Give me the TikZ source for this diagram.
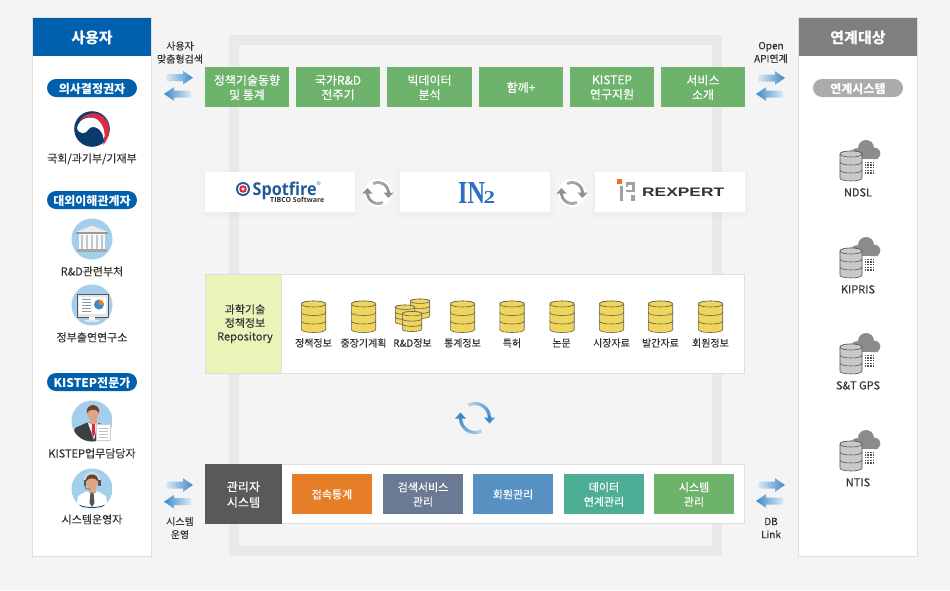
\documentclass[tikz,border=0pt]{standalone}
\usepackage{fontspec}
\usepackage{graphicx}
\setmainfont{Noto Sans CJK KR}
\newfontfamily\medf[FakeBold=0.3]{Noto Sans CJK KR}
\newfontfamily\lightf[FakeBold=0.1]{Noto Sans CJK KR}
\newfontfamily\logosans{Open Sans}
\newfontfamily\logoarial{Liberation Sans}
\newfontfamily\logoserif{Liberation Serif}
\usetikzlibrary{calc}
\definecolor{pagebg}{HTML}{F4F4F4}
\definecolor{framec}{HTML}{E9E9E9}
\definecolor{edgec}{HTML}{DFDFDF}
\definecolor{userblue}{HTML}{0060AE}
\definecolor{linkgray}{HTML}{7F7F7F}
\definecolor{pillgray}{HTML}{ABABAB}
\definecolor{mygreen}{HTML}{6DB36C}
\definecolor{repog}{HTML}{E8F4B8}
\definecolor{admind}{HTML}{595959}
\definecolor{morange}{HTML}{E67E27}
\definecolor{mslate}{HTML}{6A7A94}
\definecolor{mblue}{HTML}{5791C1}
\definecolor{mteal}{HTML}{4BAE95}
\definecolor{txt}{HTML}{333333}
\definecolor{arrdark}{HTML}{3D8AC8}
\definecolor{arrlight}{HTML}{DCEAF5}
\definecolor{cycbl}{HTML}{B5D5EC}
\definecolor{cycgd}{HTML}{8F8F8F}
\definecolor{cycgl}{HTML}{ABABAB}
\definecolor{dby}{HTML}{EFD55C}
\definecolor{dbs}{HTML}{5F5F55}
\definecolor{skyc}{HTML}{A3CEEC}
\definecolor{skin}{HTML}{DDA583}
\definecolor{hairc}{HTML}{6E4229}
\definecolor{navy}{HTML}{0B3A6C}
\definecolor{redc}{HTML}{DE2B45}
\definecolor{suitc}{HTML}{3F3F3F}
\definecolor{cloudc}{HTML}{8C8C8C}
\definecolor{darkg}{HTML}{555555}
\definecolor{drumg}{HTML}{C9C9C9}
\definecolor{rexg}{HTML}{A0A0A0}
\definecolor{rexo}{HTML}{F0701E}
\definecolor{spotb}{HTML}{1D5A9A}
\definecolor{inblue}{HTML}{2A6FC4}
\tikzset{
 x=1pt,y=-1pt,
 lab/.style={font=\lightf\fontsize{10}{13}\selectfont,text=txt,inner sep=0pt,align=center,yshift=-.5pt},
 labm/.style={font=\lightf\fontsize{11}{13}\selectfont,text=txt,inner sep=0pt,align=center,yshift=-.4pt},
 sidehead/.style={font=\fontsize{15}{18}\selectfont\bfseries,text=white,inner sep=0pt,minimum width=118pt,minimum height=38pt,text depth=0pt},
 pill/.style={font=\fontsize{12}{14}\selectfont\bfseries,text=white,inner sep=0pt,minimum width=90pt,minimum height=18pt,rounded corners=9pt,text depth=0pt},
 gbox/.style={fill=mygreen,font=\medf\fontsize{12}{14.5}\selectfont,text=white,inner sep=0pt,minimum height=40pt,align=center,text depth=0pt},
 mbox/.style={font=\medf\fontsize{11}{14.5}\selectfont,text=white,inner sep=0pt,minimum width=80pt,minimum height=40pt,align=center,text depth=0pt},
 logobox/.style={fill=white,inner sep=0pt,minimum width=150pt,minimum height=40pt},
}
% gradient block arrows
\newcommand\arrowR[2]{\shade[left color=arrlight,right color=arrdark] (#1,#2-3.5) -- (#1+17,#2-3.5) -- (#1+17,#2-6.8) -- (#1+27,#2) -- (#1+17,#2+6.8) -- (#1+17,#2+3.5) -- (#1,#2+3.5) -- cycle;}
\newcommand\arrowL[2]{\shade[left color=arrdark,right color=arrlight] (#1,#2) -- (#1+10,#2-6.8) -- (#1+10,#2-3.5) -- (#1+27,#2-3.5) -- (#1+27,#2+3.5) -- (#1+10,#2+3.5) -- (#1+10,#2+6.8) -- cycle;}
% disc stack: cx, top, half width, ry, layer height, fill, stroke
\newcommand\dbstack[7]{%
 \begin{scope}[shift={(#1,#2)},line width=.6pt,draw=#7,fill=#6]
 \foreach \k in {2,1,0}{
  \filldraw (-#3,{#4+\k*#5}) -- (-#3,{#4+(\k+1)*#5}) .. controls (-#3,{#4+(\k+1)*#5+1.33*#4}) and (#3,{#4+(\k+1)*#5+1.33*#4}) .. (#3,{#4+(\k+1)*#5}) -- (#3,{#4+\k*#5}) .. controls (#3,{#4+\k*#5-1.33*#4}) and (-#3,{#4+\k*#5-1.33*#4}) .. cycle;
 }
 \filldraw (-#3,#4) .. controls (-#3,{#4-1.33*#4}) and (#3,{#4-1.33*#4}) .. (#3,#4) .. controls (#3,{#4+1.33*#4}) and (-#3,{#4+1.33*#4}) .. cycle;
 \end{scope}}
% linked system icon: cx of drum, top of drum
\newcommand\linkicon[2]{%
 \begin{scope}[shift={(#1,#2)}]
 \fill[cloudc] (15,-3) circle[radius=8pt];
 \fill[cloudc] (5.5,2) circle[radius=5pt];
 \fill[cloudc] (23.5,2.5) circle[radius=5.8pt];
 \fill[cloudc] (3,2) rectangle (27,8.2);
 \foreach \a in {0,1,2,3}{\foreach \b in {0,1,2,3,4}{
  \fill[darkg] ({13.5+\a*2.8},{10.5+\b*2.7}) rectangle ++(1.5pt,-1.5pt);}}
 \end{scope}
 \dbstack{#1}{#2}{11}{3}{8}{drumg}{darkg}}
% circular arrows: cx, cy, radius, width, head half, dark, light
\newcommand\cyc[7]{%
 \foreach \t in {0,1,...,12}{
  \pgfmathsetmacro\mixv{100-\t*8}
  \draw[line width=#4,#6!\mixv!#7] (#1,#2) ++({\t*9}:#3) arc[start angle={\t*9},end angle={\t*9+9.5},radius=#3];
  \draw[line width=#4,#6!\mixv!#7] (#1,#2) ++({180+\t*9}:#3) arc[start angle={180+\t*9},end angle={180+\t*9+9.5},radius=#3];
 }
 \path (#1,#2) ++(#3,0pt) coordinate (cA);
 \path (#1,#2) ++(-#3,0pt) coordinate (cB);
 \fill[#6] ($(cA)+(-#5,.5pt)$) -- ($(cA)+(#5,.5pt)$) -- ($(cA)+(0pt,-#5)$) -- cycle;
 \fill[#6] ($(cB)+(-#5,-.5pt)$) -- ($(cB)+(#5,-.5pt)$) -- ($(cB)+(0pt,#5)$) -- cycle;}
\begin{document}
\begin{tikzpicture}
\useasboundingbox (0,0) rectangle (950,590);
\fill[pagebg] (0,0) rectangle (950,590);
% frame
\fill[framec] (229,35) rectangle (722,556);
\fill[pagebg] (239,45) rectangle (712,546);
% side panels
\filldraw[fill=white,draw=edgec,line width=1pt] (32.5,17.5) rectangle (151.5,556);
\filldraw[fill=white,draw=edgec,line width=1pt] (798.5,17.5) rectangle (917.5,556);
\node[sidehead,fill=userblue] (userhead) at (92,37) {사용자};
\node[sidehead,fill=linkgray] (linkhead) at (858,37) {연계대상};
% user side
\node[pill,fill=userblue] (p1) at (92,88) {의사결정권자};
\node[pill,fill=userblue] (p2) at (92,200) {대외이해관계자};
\node[pill,fill=userblue] (p3) at (92,382) {KISTEP전문가};
\node[pill,fill=pillgray] (p4) at (858,88) {연계시스템};
% taegeuk
\fill[navy] (92,129) circle[radius=17.8pt];
\fill[white] (77,128) .. controls (79,118) and (91,114) .. (100,121) .. controls (105,126) and (106,134) .. (104,140) .. controls (103,134) and (101,130) .. (97,128) .. controls (93,126) and (90,127) .. (88,130) .. controls (86,134) and (79,135) .. (77,128) -- cycle;
\fill[redc] (79,122) .. controls (84,112) and (98,110) .. (105.5,119) .. controls (111.5,126) and (110,138) .. (103,145) .. controls (106,136) and (105,126) .. (98,120) .. controls (92,115) and (84,116) .. (79,122) -- cycle;
\node[labm] (u1) at (92,158.5) {국회/과기부/기재부};
% building
\fill[skyc] (92,239) circle[radius=20.5pt];
\fill[white!92!black] (92,225.5) -- (108,232) -- (76,232) -- cycle;
\fill[gray!80] (76,232) rectangle (108,233.5);
\fill[white!90!skyc] (79,234) rectangle (105,249);
\foreach \c in {82,87,92,97,102}{\fill[gray!45] (\c-.7,234.5) rectangle (\c+.7,249);}
\fill[gray!70] (77,248.5) rectangle (107,251.5);
\node[labm] (u2) at (92,271) {R\&D관련부처};
% monitor
\fill[skyc] (92,305) circle[radius=20.5pt];
\fill[gray!20] (77,294.5) rectangle (108,317);
\draw[darkg,line width=.8pt] (77,294.5) rectangle (108,317);
\fill[white] (79,296.5) rectangle (106,314);
\foreach \c in {299,302,305,308,311}{\draw[gray!80,line width=.7pt] (82,\c) -- (91,\c);}
\fill[arrdark] (99,304.5) circle[radius=5pt];
\fill[orange] (99,304.5) -- ++(0pt,5pt) arc[start angle=90,end angle=0,radius=5pt] -- cycle;
\fill[white] (89,317) rectangle (95,320);
\fill[white!90!black] (85,320) rectangle (99,321.5);
\node[labm] (u3) at (92,337) {정부출연연구소};
% man
\begin{scope}
\clip (92,421) circle[radius=20.5pt];
\fill[skyc] (71,400) rectangle (113,442);
\fill[suitc] (72,442) -- (75,428) -- (86,423) -- (93,422) -- (102,424) -- (110,430) -- (112,442) -- cycle;
\fill[white] (88,423) -- (98,423) -- (94,440) -- cycle;
\fill[redc] (92,423) -- (95,423) -- (95.3,433) -- (93.5,437) -- (91.7,433) -- cycle;
\fill[skin] (90,417) rectangle (96.5,424);
\fill[skin] (93,412.5) ellipse[x radius=6pt,y radius=7.5pt];
\fill[hairc] (86.8,413) .. controls (85.5,402.5) and (100.5,402.5) .. (99.2,413) .. controls (97,408.5) and (89,408.5) .. (86.8,413) -- cycle;
\end{scope}
\filldraw[fill=white,draw=gray!40,line width=.4pt] (96.5,424.5) rectangle (110,440);
\foreach \c in {428,431,434,437}{\draw[gray!50,line width=.5pt] (99,\c) -- (108,\c);}
\node[labm] (u4) at (92,453) {KISTEP업무담당자};
% operator
\begin{scope}
\clip (92,489) circle[radius=20.5pt];
\fill[skyc] (71,468) rectangle (113,510);
\fill[white] (76,510) -- (78,496) -- (86,491.5) -- (98,491.5) -- (106,496) -- (108,510) -- cycle;
\draw[navy,line width=.8pt] (72.5,500) .. controls (78,510) and (106,510) .. (111.5,500);
\fill[skin] (88.5,486) rectangle (95.5,493);
\fill[skin] (92,482) ellipse[x radius=6pt,y radius=7.2pt];
\fill[hairc] (85.5,482) .. controls (85,472) and (99,472) .. (98.5,482) .. controls (96,477) and (88,477) .. (85.5,482) -- cycle;
\draw[gray!20,line width=1pt] (84.5,482) .. controls (84,469.5) and (100,469.5) .. (99.5,482);
\fill[darkg] (83.5,480) rectangle (85.8,486);
\fill[darkg] (98.2,480) rectangle (100.5,486);
\draw[darkg,line width=.6pt] (85,486) .. controls (85,489) and (88,490) .. (90,489);
\fill[darkg] (90.5,492.5) -- (93.5,492.5) -- (94.5,503) -- (92,507) -- (89.5,503) -- cycle;
\end{scope}
\node[labm] (u5) at (92,519) {시스템운영자};
% linked systems
\linkicon{851}{151}
\node[labm] (l1) at (858,192) {NDSL};
\linkicon{851}{248}
\node[labm] (l2) at (858,289) {KIPRIS};
\linkicon{851}{344}
\node[labm] (l3) at (858,385) {S\&T GPS};
\linkicon{851}{441}
\node[labm] (l4) at (858,482) {NTIS};
% arrows
\arrowR{166}{77.7}\arrowL{164}{94}
\arrowR{758}{78}\arrowL{756}{94}
\arrowR{166}{485}\arrowL{164}{501.7}
\arrowR{758}{485}\arrowL{756}{501}
\node[lab] (a1) at (180,52) {사용자\\맞춤형검색};
\node[lab] (a2) at (771,52) {Open\\API연계};
\node[lab] (a3) at (180,527.5) {시스템\\운영};
\node[lab] (a4) at (771,527.5) {DB\\Link};
% top row
\node[gbox,minimum width=84pt] (g1) at (247,87) {정책기술동향\\및 통계};
\node[gbox,minimum width=84pt] (g2) at (338,87) {국가R\&D\\전주기};
\node[gbox,minimum width=85pt] (g3) at (429.5,87) {빅데이터\\분석};
\node[gbox,minimum width=84pt] (g4) at (521,87) {함께+};
\node[gbox,minimum width=84pt] (g5) at (612,87) {KISTEP\\연구지원};
\node[gbox,minimum width=84pt] (g6) at (703,87) {서비스\\소개};
% logos
\foreach \c in {205,400,595}{
 \foreach \d in {5,4,3,2,1}{\fill[black,opacity=.005] (\c-\d,172-\d+1.5) rectangle (\c+150+\d,212+\d+1.5);}
}
\node[logobox] (lg1) at (280,192) {};
\node[logobox] (lg2) at (475,192) {};
\node[logobox] (lg3) at (670,192) {};
\fill[white] (378,193) circle[radius=14pt];
\cyc{378}{193}{10.5pt}{2.8pt}{5pt}{cycgd}{cycgl}
\fill[white] (572,193) circle[radius=14pt];
\cyc{572}{193}{10.5pt}{2.8pt}{5pt}{cycgd}{cycgl}
% spotfire
\fill[spotb] (243,189) circle[radius=7pt];
\fill[white] (243,189) circle[radius=5.2pt];
\fill[redc] (243,189) circle[radius=3.8pt];
\fill[white] (243,189) circle[radius=1.6pt];
\node[inner sep=0pt,anchor=base west,text=spotb] (sp1) at (252.5,195) {\resizebox{64pt}{13.5pt}{\logosans\bfseries Spotfire}};
\node[inner sep=0pt,anchor=west,text=spotb] (sp3) at (316.5,184) {\logosans\fontsize{5}{6}\selectfont ®};
\node[inner sep=0pt,anchor=west,text=txt] (sp2) at (270,199.5) {\logosans\fontsize{7}{8}\selectfont\bfseries TIBCO Software};
% IN2
\node[inner sep=0pt,anchor=west,text=inblue] (in1) at (458,192.5) {\resizebox{27pt}{21pt}{\logoserif\bfseries IN}};
\node[inner sep=0pt,anchor=west,text=inblue] (in2) at (483.5,197.5) {\resizebox{11.5pt}{12pt}{\logoserif\bfseries 2}};
% rexpert
\fill[rexo] (616.5,179) rectangle (621.5,184);
\fill[rexg] (619.5,186) rectangle (623,201);
\fill[rexg] (625.5,182) rectangle (635,184.8);
\fill[rexg] (632,182) rectangle (635,192);
\fill[rexg] (625.5,189.5) rectangle (635,192.3);
\fill[rexg] (625.5,184) rectangle (628,186.5);
\fill[rexg] (631,194.5) rectangle (634.5,201);
\node[inner sep=0pt,anchor=west,text=txt] (rx) at (642,192) {\resizebox{82pt}{8.5pt}{\logoarial\bfseries REXPERT}};
% repository
\filldraw[fill=white,draw=edgec,line width=1pt] (205.5,274.5) rectangle (744.5,373.5);
\filldraw[fill=repog,draw=edgec,line width=1pt] (205.5,274.5) rectangle (281.5,373.5);
\node[font=\lightf\fontsize{11}{13.5}\selectfont,text=txt,inner sep=0pt,align=center,yshift=-.2pt] (rp) at (245,323.5) {과학기술\\정책정보\\Repository};
\dbstack{313.5}{301}{12.2}{3}{8.5}{dby}{dbs}
\dbstack{363.5}{301}{12.2}{3}{8.5}{dby}{dbs}
\dbstack{420}{299}{9.7}{2.2}{5}{dby}{dbs}
\dbstack{405}{305}{9.7}{2.2}{5}{dby}{dbs}
\dbstack{412}{311.5}{9.7}{2.2}{5.2}{dby}{dbs}
\dbstack{462.5}{301}{12.2}{3}{8.5}{dby}{dbs}
\dbstack{512}{301}{12.2}{3}{8.5}{dby}{dbs}
\dbstack{562}{301}{12.2}{3}{8.5}{dby}{dbs}
\dbstack{611.5}{301}{12.2}{3}{8.5}{dby}{dbs}
\dbstack{660.5}{301}{12.2}{3}{8.5}{dby}{dbs}
\dbstack{710.5}{301}{12.2}{3}{8.5}{dby}{dbs}
\node[lab] (d1) at (313.5,342.5) {정책정보};
\node[lab] (d2) at (363.5,342.5) {중장기계획};
\node[lab] (d3) at (412.5,342.5) {R\&D정보};
\node[lab] (d4) at (462.5,342.5) {통계정보};
\node[lab] (d5) at (512,342.5) {특허};
\node[lab] (d6) at (561.5,342.5) {논문};
\node[lab] (d7) at (611.5,342.5) {시장자료};
\node[lab] (d8) at (660.5,342.5) {발간자료};
\node[lab] (d9) at (710.5,342.5) {회원정보};
% big cycle
\cyc{475}{418}{14.5pt}{3.2pt}{5.5pt}{arrdark}{cycbl}
% admin
\filldraw[fill=white,draw=edgec,line width=1pt] (205.5,464.5) rectangle (744.5,523.5);
\fill[admind] (205,464) rectangle (281.5,524);
\node[font=\medf\fontsize{12}{15.5}\selectfont,text=white,inner sep=0pt,align=center,yshift=-.5pt] (ad) at (243.5,494) {관리자\\시스템};
\node[mbox,fill=morange] (m1) at (332,494) {접속통계};
\node[mbox,fill=mslate] (m2) at (423,494) {검색서비스\\관리};
\node[mbox,fill=mblue] (m3) at (513,494) {회원관리};
\node[mbox,fill=mteal] (m4) at (604,494) {데이터\\연계관리};
\node[mbox,fill=mygreen] (m5) at (694,494) {시스템\\관리};
\end{tikzpicture}
\end{document}
